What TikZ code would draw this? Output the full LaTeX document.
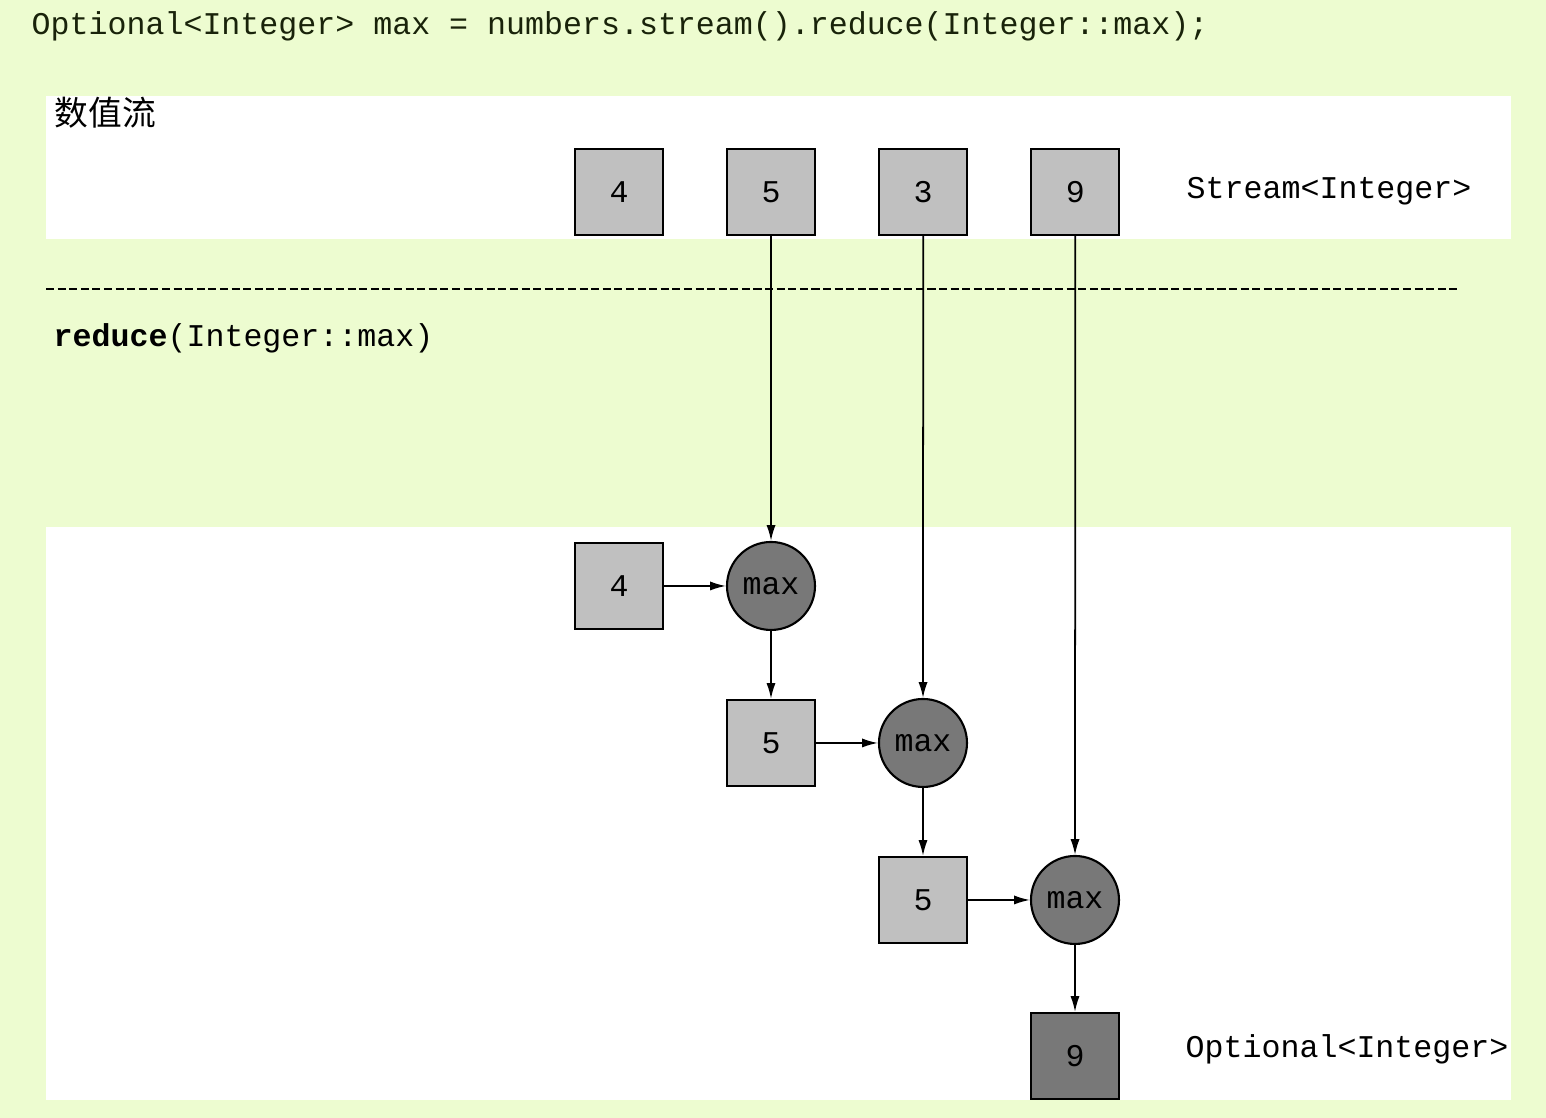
\documentclass[tikz,border=0pt]{standalone}
\usepackage{fontspec}
\setmonofont{Liberation Mono}
\newfontfamily\cjk{Noto Sans CJK SC}
\usetikzlibrary{arrows.meta,positioning}
\definecolor{bggreen}{RGB}{237,252,208}
\definecolor{codeink}{RGB}{25,35,10}
\definecolor{boxgray}{RGB}{192,192,192}
\definecolor{maxgray}{RGB}{120,120,120}

\begin{document}
\begin{tikzpicture}[
  every node/.style={font=\ttfamily\fontsize{9}{11}\selectfont, inner sep=0pt},
  numbox/.style={rectangle, draw, fill=boxgray, minimum width=0.88cm, minimum height=0.86cm, line width=0.6pt},
  resbox/.style={numbox, fill=maxgray},
  maxop/.style={circle, draw, fill=maxgray, minimum size=0.88cm, line width=0.6pt},
  flow/.style={draw, ->, >={Latex[length=4.5pt,width=2.6pt]}, line width=0.5pt},
  typetext/.style={anchor=west}
]
% background and panels
\fill[bggreen] (0,0) rectangle (15.46,11.18);
\useasboundingbox (0,0) rectangle (15.46,11.18);
\fill[white] (0.46,8.79) rectangle (15.11,10.22);
\fill[white] (0.46,0.18) rectangle (15.11,5.91);
\draw[dash pattern=on 2.3pt off 1pt, line width=0.6pt] (0.46,8.29) -- (14.59,8.29);

% texts
\node[typetext, text=codeink] (code) at (0.31,10.92) {Optional<Integer> max = numbers.stream().reduce(Integer::max);};
\node[typetext, font=\cjk\fontsize{9.6}{11}\selectfont] (title) at (0.54,10.05) {数值流};
\node[typetext] (op) at (0.53,7.80) {\textbf{reduce}(Integer::max)};

% the stream
\node[numbox] (t4) at (6.19,9.26) {4};
\node[numbox, right=0.62cm of t4] (t5) {5};
\node[numbox, right=0.62cm of t5] (t3) {3};
\node[numbox, right=0.62cm of t3] (t9) {9};
\node[typetext] (stype) at (11.86,9.27) {Stream<Integer>};

% reduction steps
\node[numbox] (a4) at (6.19,5.32) {4};
\node[maxop] (m1) at (7.71,5.32) {max};
\node[numbox] (a5) at (7.71,3.75) {5};
\node[maxop] (m2) at (9.23,3.75) {max};
\node[numbox] (b5) at (9.23,2.18) {5};
\node[maxop] (m3) at (10.75,2.18) {max};
\node[resbox] (r9) at (10.75,0.62) {9};
\node[typetext] (otype) at (11.85,0.69) {Optional<Integer>};

\draw[flow] (t5) -- (m1);
\draw[flow] (t3) -- (m2);
\draw[flow] (t9) -- (m3);
\draw[flow] (a4) -- (m1);
\draw[flow] (m1) -- (a5);
\draw[flow] (a5) -- (m2);
\draw[flow] (m2) -- (b5);
\draw[flow] (b5) -- (m3);
\draw[flow] (m3) -- (r9);
\end{tikzpicture}
\end{document}
